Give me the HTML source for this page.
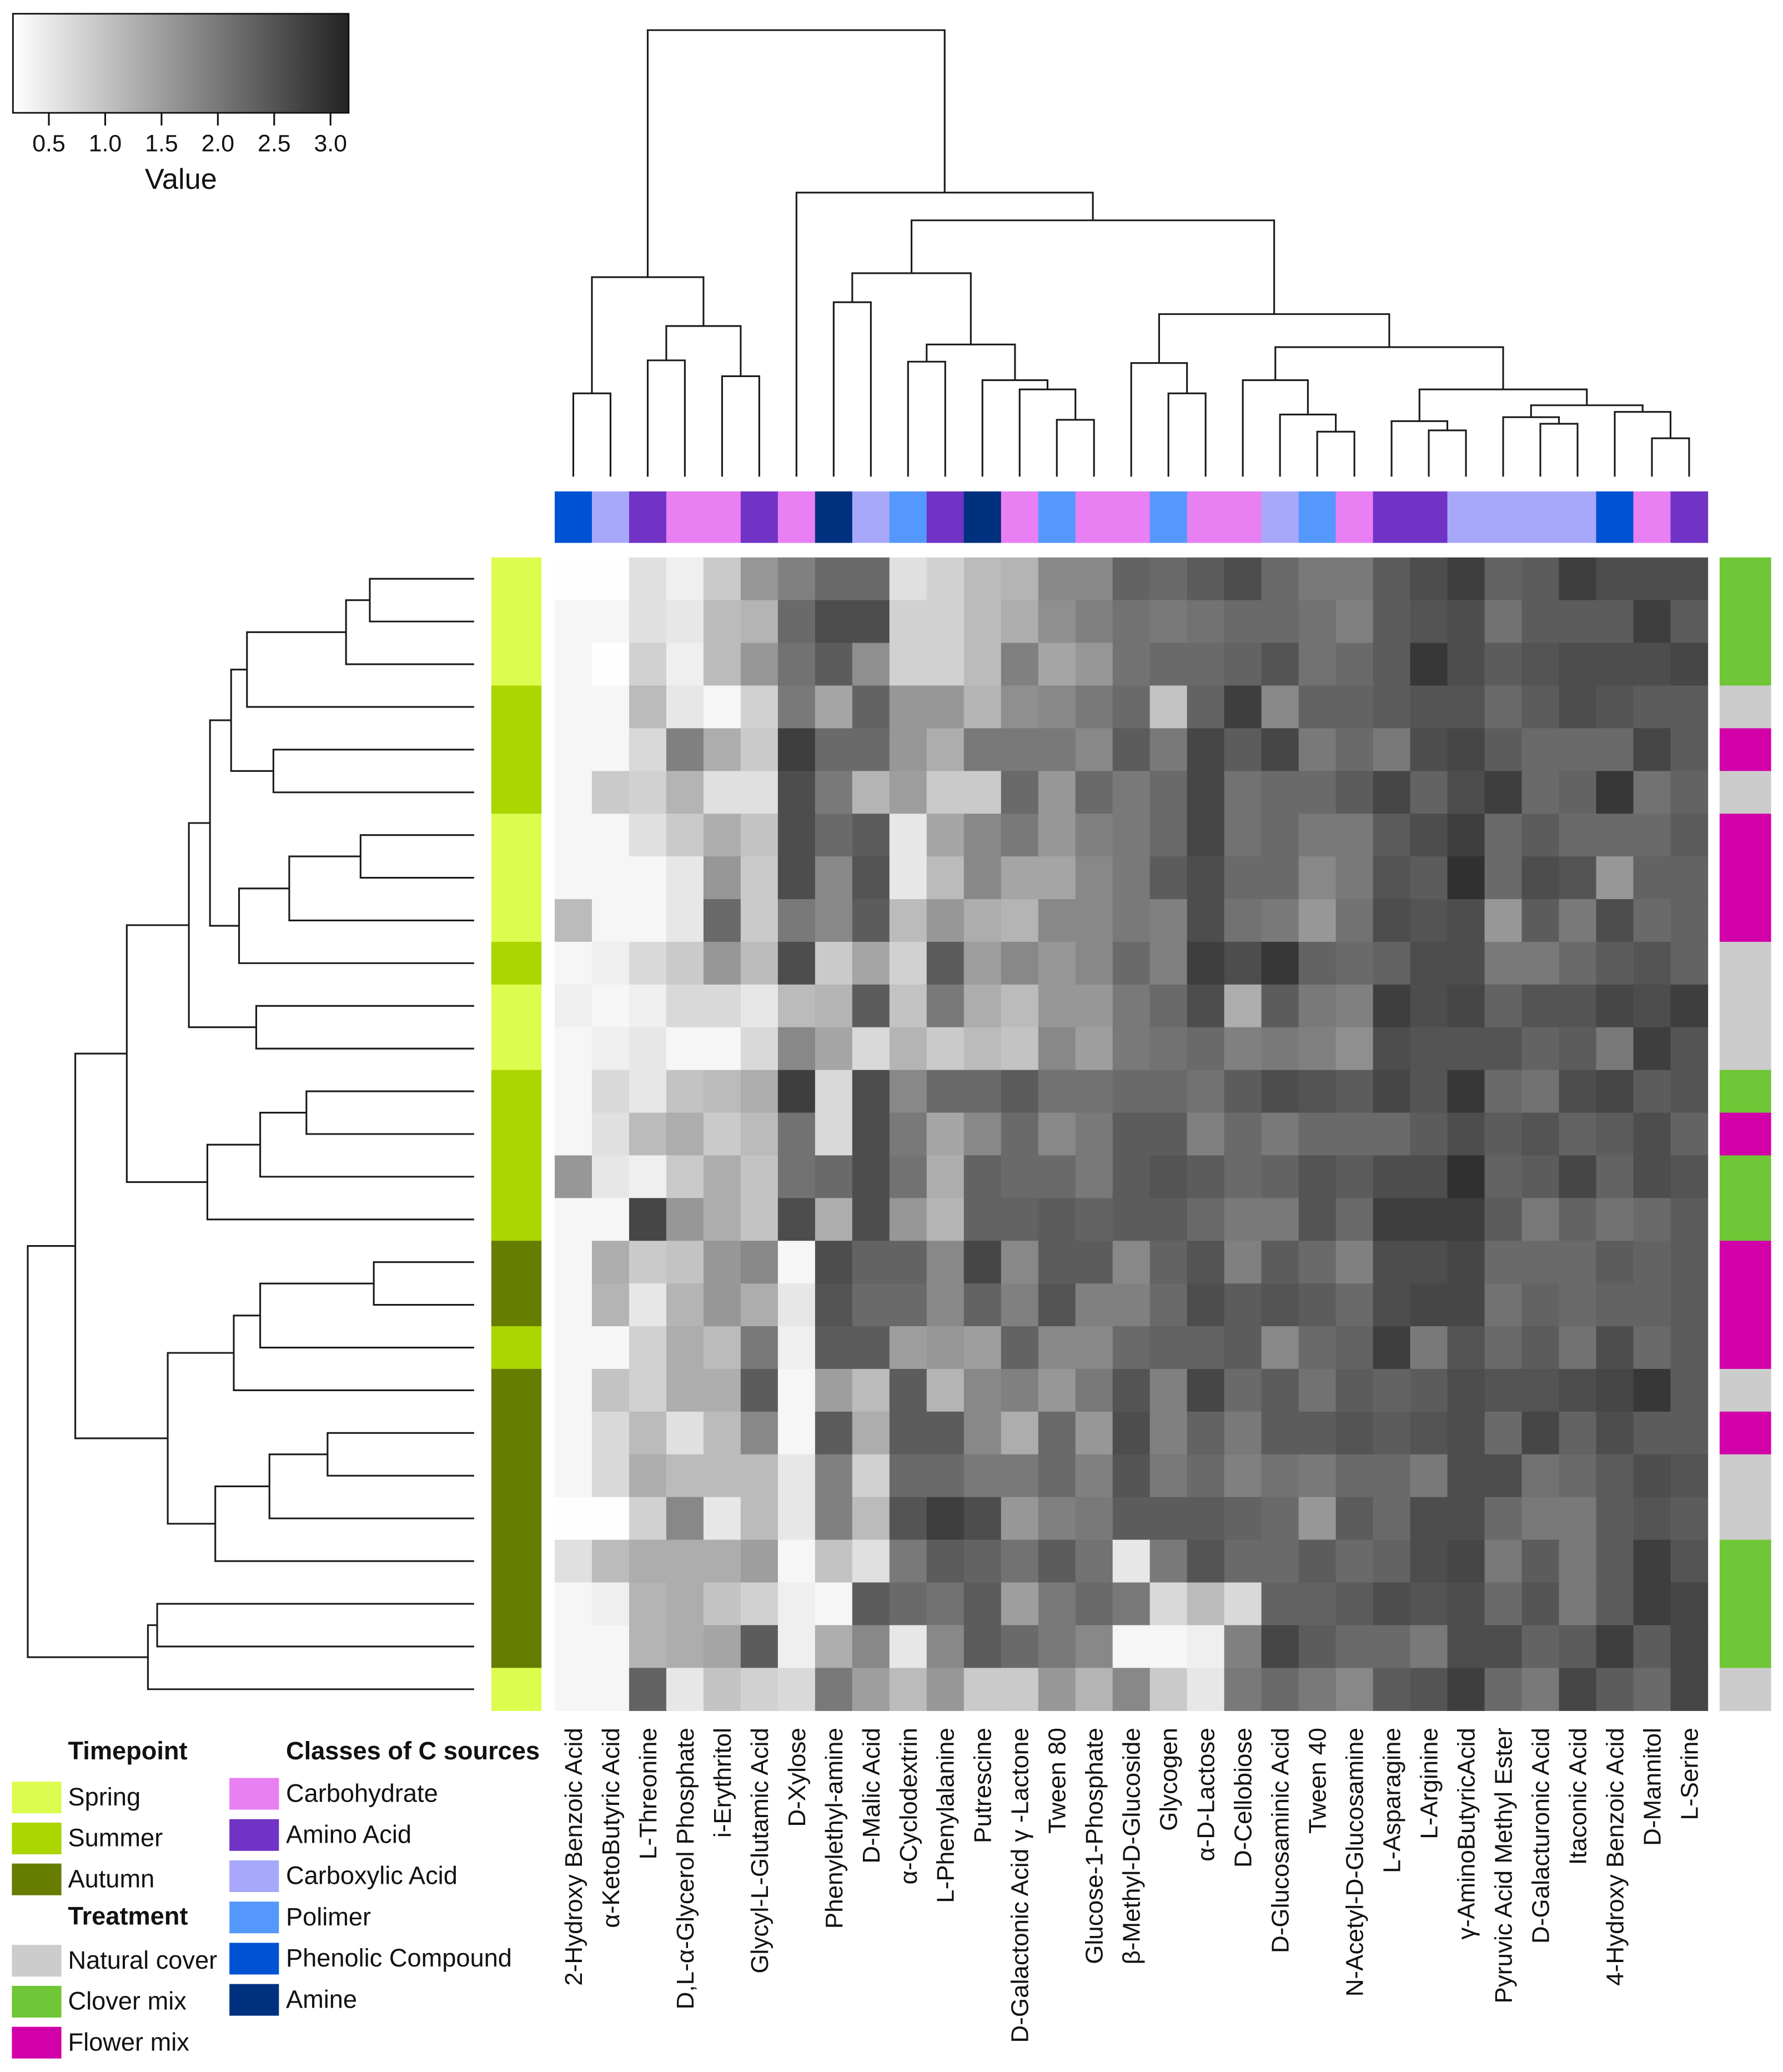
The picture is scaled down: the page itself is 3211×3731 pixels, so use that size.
<!DOCTYPE html>
<html><head><meta charset="utf-8"><title>Heatmap of C sources</title>
<style>
html,body{margin:0;padding:0;background:#fff;}
svg{display:block;}
text{font-family:"Liberation Sans",Arial,sans-serif;fill:#111;}
.nar{font-family:"Liberation Sans Narrow","Liberation Sans",sans-serif;}
</style></head>
<body>
<svg id="chart" width="3211" height="3731" viewBox="0 0 1350 1568.6" xmlns="http://www.w3.org/2000/svg">
<defs>
<linearGradient id="cbgrad" x1="0" x2="1" y1="0" y2="0">
<stop offset="0" stop-color="#ffffff"/><stop offset="1" stop-color="#232323"/>
</linearGradient>
</defs>
<g id="colorkey">
<rect x="9.8" y="10.4" width="254.2" height="75" fill="url(#cbgrad)" stroke="#111" stroke-width="1.2"/>
<g id="cbticks"></g>
<text x="137" y="143" font-size="22" text-anchor="middle" class="nar">Value</text>
</g>
<g id="coldendro" stroke="#1a1a1a" stroke-width="1.3" fill="none"></g>
<g id="rowdendro" stroke="#1a1a1a" stroke-width="1.3" fill="none"></g>
<g id="colbar"></g>
<g id="timebar"></g>
<g id="treatbar"></g>
<g id="heat"></g>
<g id="collabels"></g>
<g id="legend" class="nar" font-size="19"></g>
</svg>
<script>
const colNames = ["2-Hydroxy Benzoic Acid","α-KetoButyric Acid","L-Threonine","D,L-α-Glycerol Phosphate","i-Erythritol","Glycyl-L-Glutamic Acid","D-Xylose","Phenylethyl-amine","D-Malic Acid","α-Cyclodextrin","L-Phenylalanine","Putrescine","D-Galactonic Acid γ -Lactone","Tween 80","Glucose-1-Phosphate","β-Methyl-D-Glucoside","Glycogen","α-D-Lactose","D-Cellobiose","D-Glucosaminic Acid","Tween 40","N-Acetyl-D-Glucosamine","L-Asparagine","L-Arginine","γ-AminoButyricAcid","Pyruvic Acid Methyl Ester","D-Galacturonic Acid","Itaconic Acid","4-Hydroxy Benzoic Acid","D-Mannitol","L-Serine"];
const colClass = ["Phenolic","Carboxylic","Amino","Carbo","Carbo","Amino","Carbo","Amine","Carboxylic","Polimer","Amino","Amine","Carbo","Polimer","Carbo","Carbo","Polimer","Carbo","Carbo","Carboxylic","Polimer","Carbo","Amino","Amino","Carboxylic","Carboxylic","Carboxylic","Carboxylic","Phenolic","Carbo","Amino"];
const rowTimepoint = ["Spring","Spring","Spring","Summer","Summer","Summer","Spring","Spring","Spring","Summer","Spring","Spring","Summer","Summer","Summer","Summer","Autumn","Autumn","Summer","Autumn","Autumn","Autumn","Autumn","Autumn","Autumn","Autumn","Spring"];
const rowTreatment = ["Clover","Clover","Clover","Natural","Flower","Natural","Flower","Flower","Flower","Natural","Natural","Natural","Clover","Flower","Clover","Clover","Flower","Flower","Flower","Natural","Flower","Natural","Natural","Clover","Clover","Clover","Natural"];
const values = [
[0.2,0.2,0.6,0.4,0.9,1.6,1.9,2.2,2.2,0.6,0.8,1.1,1.2,1.8,1.8,2.3,2.2,2.4,2.6,2.2,2.0,2.0,2.4,2.6,2.8,2.3,2.4,2.8,2.6,2.6,2.6],
[0.3,0.3,0.6,0.5,1.1,1.2,2.2,2.6,2.6,0.8,0.8,1.1,1.3,1.7,1.9,2.1,2.0,2.1,2.2,2.2,2.1,1.9,2.4,2.5,2.6,2.1,2.4,2.4,2.4,2.8,2.4],
[0.3,0.2,0.8,0.4,1.1,1.6,2.1,2.4,1.7,0.8,0.8,1.1,1.9,1.4,1.6,2.1,2.2,2.2,2.3,2.5,2.1,2.2,2.4,2.9,2.6,2.4,2.5,2.6,2.6,2.6,2.7],
[0.3,0.3,1.1,0.5,0.3,0.8,2.0,1.4,2.3,1.6,1.6,1.2,1.7,1.8,2.0,2.2,1.0,2.3,2.8,1.8,2.3,2.3,2.4,2.5,2.5,2.2,2.4,2.6,2.5,2.4,2.4],
[0.3,0.3,0.7,1.9,1.3,0.9,2.8,2.2,2.2,1.6,1.3,2.0,2.0,2.0,1.8,2.4,2.0,2.7,2.4,2.7,2.0,2.2,2.0,2.6,2.7,2.4,2.2,2.2,2.2,2.7,2.4],
[0.3,0.9,0.8,1.2,0.6,0.6,2.6,2.0,1.2,1.5,0.9,0.9,2.2,1.6,2.2,2.0,2.2,2.7,2.1,2.2,2.2,2.4,2.7,2.3,2.6,2.8,2.2,2.3,2.9,2.1,2.3],
[0.3,0.3,0.6,0.9,1.3,1.0,2.6,2.2,2.4,0.5,1.4,1.8,2.0,1.6,1.9,2.0,2.2,2.7,2.1,2.2,2.0,2.0,2.4,2.6,2.8,2.2,2.4,2.2,2.2,2.2,2.4],
[0.3,0.3,0.3,0.5,1.6,0.9,2.6,1.8,2.5,0.5,1.1,1.8,1.4,1.4,1.8,2.0,2.4,2.6,2.2,2.2,1.8,2.0,2.5,2.4,3.0,2.2,2.6,2.5,1.6,2.3,2.3],
[1.1,0.3,0.3,0.5,2.2,0.9,2.0,1.8,2.4,1.1,1.6,1.3,1.2,1.8,1.8,2.0,1.9,2.6,2.1,2.0,1.6,2.1,2.6,2.5,2.6,1.6,2.4,2.0,2.6,2.2,2.3],
[0.3,0.4,0.7,0.9,1.6,1.1,2.6,0.9,1.4,0.8,2.4,1.5,1.8,1.6,1.8,2.2,1.9,2.8,2.6,2.9,2.3,2.2,2.3,2.6,2.6,2.0,2.0,2.2,2.4,2.5,2.3],
[0.4,0.3,0.4,0.7,0.7,0.5,1.1,1.2,2.4,1.0,2.0,1.3,1.1,1.6,1.6,2.0,2.2,2.6,1.3,2.4,2.0,1.9,2.8,2.6,2.7,2.3,2.5,2.5,2.7,2.6,2.8],
[0.3,0.4,0.5,0.3,0.3,0.7,1.8,1.4,0.7,1.2,0.9,1.1,1.0,1.8,1.5,2.0,2.1,2.2,1.9,2.0,1.9,1.7,2.6,2.5,2.5,2.5,2.3,2.4,2.0,2.8,2.5],
[0.3,0.7,0.5,1.0,1.1,1.3,2.8,0.7,2.6,1.8,2.2,2.2,2.4,2.1,2.1,2.2,2.2,2.1,2.4,2.6,2.5,2.4,2.7,2.5,2.9,2.2,2.1,2.6,2.7,2.4,2.5],
[0.3,0.6,1.1,1.3,0.9,1.1,2.1,0.7,2.6,2.0,1.4,1.8,2.2,1.8,2.0,2.4,2.4,1.9,2.2,2.0,2.2,2.2,2.2,2.4,2.6,2.4,2.5,2.3,2.4,2.6,2.3],
[1.6,0.5,0.4,0.9,1.3,1.0,2.1,2.2,2.6,2.1,1.3,2.3,2.2,2.2,2.0,2.4,2.5,2.4,2.2,2.3,2.5,2.4,2.6,2.6,3.0,2.3,2.4,2.7,2.3,2.6,2.5],
[0.3,0.3,2.7,1.6,1.3,1.0,2.6,1.3,2.6,1.6,1.2,2.3,2.3,2.4,2.3,2.4,2.4,2.2,2.0,2.0,2.5,2.2,2.8,2.8,2.8,2.4,2.0,2.3,2.1,2.2,2.4],
[0.3,1.3,0.9,1.0,1.6,1.8,0.3,2.6,2.3,2.3,1.8,2.7,1.8,2.4,2.4,1.8,2.3,2.5,1.9,2.4,2.2,1.9,2.6,2.6,2.7,2.2,2.2,2.2,2.4,2.3,2.4],
[0.3,1.2,0.5,1.2,1.6,1.3,0.5,2.5,2.2,2.2,1.8,2.3,1.9,2.5,1.9,1.9,2.2,2.6,2.4,2.5,2.4,2.2,2.6,2.7,2.7,2.1,2.3,2.2,2.3,2.3,2.4],
[0.3,0.3,0.8,1.3,1.1,2.0,0.4,2.4,2.4,1.5,1.6,1.5,2.3,1.8,1.8,2.2,2.3,2.3,2.4,1.8,2.2,2.3,2.8,2.0,2.5,2.2,2.4,2.1,2.6,2.2,2.4],
[0.3,1.0,0.8,1.3,1.3,2.4,0.3,1.5,1.1,2.4,1.2,1.8,1.9,1.6,2.0,2.5,1.9,2.7,2.2,2.4,2.1,2.4,2.3,2.4,2.6,2.5,2.5,2.6,2.7,2.9,2.4],
[0.3,0.7,1.1,0.6,1.1,1.8,0.3,2.4,1.3,2.4,2.4,1.8,1.3,2.2,1.6,2.6,1.9,2.3,2.0,2.4,2.4,2.5,2.4,2.5,2.6,2.2,2.7,2.3,2.6,2.4,2.4],
[0.3,0.7,1.3,1.1,1.1,1.1,0.5,1.9,0.8,2.2,2.2,2.0,2.0,2.2,1.9,2.5,2.0,2.2,1.9,2.1,2.0,2.2,2.2,2.0,2.6,2.6,2.1,2.2,2.4,2.6,2.5],
[0.2,0.2,0.8,1.8,0.5,1.1,0.5,1.9,1.1,2.5,2.8,2.6,1.6,1.9,2.0,2.4,2.4,2.4,2.3,2.2,1.6,2.4,2.2,2.6,2.6,2.2,2.0,2.0,2.4,2.5,2.4],
[0.6,1.1,1.3,1.3,1.3,1.5,0.3,1.0,0.6,2.0,2.4,2.3,2.1,2.4,2.1,0.5,2.0,2.5,2.2,2.2,2.4,2.2,2.3,2.6,2.7,2.0,2.4,2.0,2.4,2.8,2.5],
[0.3,0.4,1.2,1.3,1.0,0.8,0.4,0.3,2.4,2.2,2.1,2.4,1.5,2.0,2.2,2.0,0.7,1.1,0.7,2.3,2.3,2.4,2.6,2.5,2.6,2.2,2.5,2.0,2.4,2.8,2.7],
[0.3,0.3,1.2,1.3,1.4,2.4,0.4,1.3,1.8,0.5,1.8,2.4,2.2,2.0,1.8,0.3,0.3,0.4,1.9,2.7,2.4,2.2,2.2,2.0,2.6,2.6,2.3,2.4,2.8,2.4,2.7],
[0.3,0.3,2.3,0.5,1.0,0.8,0.7,2.0,1.5,1.1,1.6,0.9,0.9,1.6,1.2,1.8,0.9,0.5,2.0,2.2,2.0,1.8,2.4,2.5,2.8,2.2,2.0,2.7,2.4,2.2,2.7]
];
const colTree = [[[0,1,0.63],[[2,3,0.88],[4,5,0.76],1.14],1.51],[6,[[[7,8,1.32],[[9,10,0.87],[11,[12,[13,14,0.43],0.66],0.73],1.00],1.54],[[15,[16,17,0.63],0.86],[[18,[19,[20,21,0.34],0.47],0.73],[[22,[23,24,0.35],0.42],[[25,[26,27,0.40],0.45],[28,[29,30,0.29],0.49],0.54],0.66],0.98],1.23],1.94],2.15],3.38];
const rowTree = [[[[[[[[[0,1,0.79],2,0.97],3,1.72],[4,5,1.52],1.84],[[[6,7,0.86],8,1.40],9,1.78],2.00],[10,11,1.65],2.16],[[[12,13,1.27],14,1.62],15,2.02],2.63],[[[[16,17,0.76],18,1.62],19,1.82],[[[20,21,1.11],22,1.55],23,1.96],2.32],3.02],[[24,25,2.40],26,2.47],3.38];
const cbTicks = [0.5,1.0,1.5,2.0,2.5,3.0];
const cbTickLabels = ["0.5","1.0","1.5","2.0","2.5","3.0"];
const classColors = {Carbo:"#e87ff3",Amino:"#7033c5",Carboxylic:"#a8a8fa",Polimer:"#5598fb",Phenolic:"#0052d4",Amine:"#00317f"};
const classLabels = [["Carbo","Carbohydrate"],["Amino","Amino Acid"],["Carboxylic","Carboxylic Acid"],["Polimer","Polimer"],["Phenolic","Phenolic Compound"],["Amine","Amine"]];
const timeColors = {Spring:"#dcfd4f",Summer:"#abd600",Autumn:"#667d00"};
const treatColors = {Natural:"#cccccc",Clover:"#6fc636",Flower:"#d200a9"};
const treatLabels = [["Natural","Natural cover"],["Clover","Clover mix"],["Flower","Flower mix"]];

const NS="http://www.w3.org/2000/svg";
const HX0=420, HX1=1293, HY0=422, HY1=1295;
const nC=colNames.length, nR=values.length;
const cw=(HX1-HX0)/nC, rh=(HY1-HY0)/nR;
const colX=i=>HX0+cw*(i+0.5);
const rowY=i=>HY0+rh*(i+0.5);
const colDendY=d=>360.8-d*100;
const rowDendX=d=>359-d*100;
function gray(v){let g=Math.round(255-(v-0.18)*(255-35)/(3.17-0.18));g=Math.max(30,Math.min(255,g));return `rgb(${g},${g},${g})`;}
const cbX=v=>37+(v-0.5)*85.3;
function mk(tag,attrs,parent){const e=document.createElementNS(NS,tag);for(const k in attrs)e.setAttribute(k,attrs[k]);parent.appendChild(e);return e;}

const heat=document.getElementById('heat');
for(let r=0;r<nR;r++)for(let c=0;c<nC;c++){
  const e=mk('rect',{x:(HX0+cw*c).toFixed(2),y:(HY0+rh*r).toFixed(2),width:(cw+0.3).toFixed(2),height:(rh+0.3).toFixed(2),fill:gray(values[r][c])},heat);
  
  
}
const colbar=document.getElementById('colbar');
for(let c=0;c<nC;c++){
  const e=mk('rect',{x:(HX0+cw*c).toFixed(2),y:372,width:(cw+0.3).toFixed(2),height:39,fill:classColors[colClass[c]]},colbar);
  
  
}
const tb=document.getElementById('timebar'), trb=document.getElementById('treatbar');
for(let r=0;r<nR;r++){
  const e=mk('rect',{x:372,y:(HY0+rh*r).toFixed(2),width:38,height:(rh+0.3).toFixed(2),fill:timeColors[rowTimepoint[r]]},tb);
  
  
  const f=mk('rect',{x:1302,y:(HY0+rh*r).toFixed(2),width:39,height:(rh+0.3).toFixed(2),fill:treatColors[rowTreatment[r]]},trb);
  
  
}
const cl=document.getElementById('collabels');
for(let c=0;c<nC;c++){
  const x=colX(c)+6.5, y=1308;
  const t=mk('text',{x:x.toFixed(2),y:y,transform:`rotate(-90 ${x.toFixed(2)} ${y})`,'text-anchor':'end','font-size':18.5},cl);
  t.textContent=colNames[c];
  
  
}
function drawTree(node,g,isCol){
  if(typeof node==='number') return {p:isCol?colX(node):rowY(node),d:0};
  const a=drawTree(node[0],g,isCol), b=drawTree(node[1],g,isCol), d=node[2];
  let pts;
  if(isCol){const y=colDendY(d);pts=`M${a.p.toFixed(2)},${colDendY(a.d).toFixed(2)}V${y.toFixed(2)}H${b.p.toFixed(2)}V${colDendY(b.d).toFixed(2)}`;}
  else{const x=rowDendX(d);pts=`M${rowDendX(a.d).toFixed(2)},${a.p.toFixed(2)}H${x.toFixed(2)}V${b.p.toFixed(2)}H${rowDendX(b.d).toFixed(2)}`;}
  const e=mk('path',{d:pts},g);
  
  
  return {p:(a.p+b.p)/2,d:d};
}
drawTree(colTree,document.getElementById('coldendro'),true);
drawTree(rowTree,document.getElementById('rowdendro'),false);
const cbt=document.getElementById('cbticks');
cbTicks.forEach((v,i)=>{
  const l=mk('line',{x1:cbX(v),x2:cbX(v),y1:85.4,y2:95,stroke:'#111','stroke-width':1.3},cbt);
  
  
  const t=mk('text',{x:cbX(v),y:114.5,'text-anchor':'middle','font-size':18,class:'nar'},cbt);
  t.textContent=cbTickLabels[i];
  
  
});
const lg=document.getElementById('legend');
function head(txt,x,y){const t=mk('text',{x:x,y:y,'font-weight':'bold'},lg);t.textContent=txt;}
function entry(col,txt,rx,tx,y){
  const r=mk('rect',{x:rx,y:y,width:37.5,height:24,fill:col},lg);
  
  
  const t=mk('text',{x:tx,y:y+18},lg);t.textContent=txt;
  
  
}
head('Timepoint',51.5,1332);
["Spring","Summer","Autumn"].forEach((k,i)=>entry(timeColors[k],k,9,51.5,1348.8+i*31));
head('Treatment',51.5,1457);
treatLabels.forEach((k,i)=>entry(treatColors[k[0]],k[1],9,51.5,1472.4+i*31));
head('Classes of C sources',216.5,1332);
classLabels.forEach((k,i)=>entry(classColors[k[0]],k[1],173.7,216.5,1346+i*31.2));
</script>
</body></html>
